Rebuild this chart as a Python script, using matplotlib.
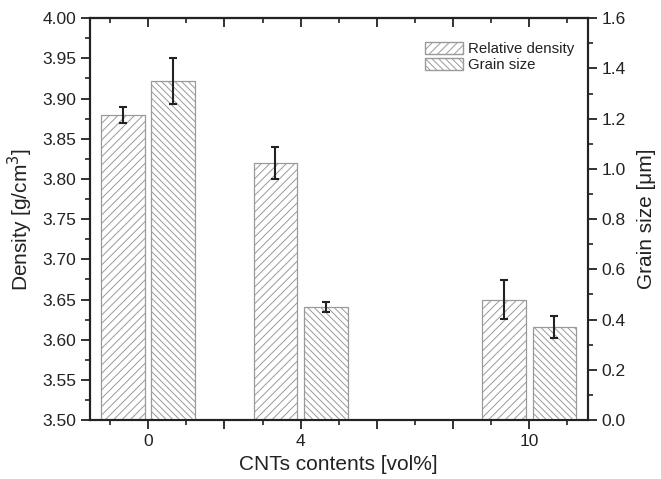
import matplotlib
matplotlib.use("Agg")
import matplotlib.pyplot as plt
from matplotlib.patches import Patch
from matplotlib.ticker import MultipleLocator, FixedLocator, FormatStrFormatter

plt.rcParams['font.family'] = ['Liberation Sans', 'DejaVu Sans']
plt.rcParams['hatch.linewidth'] = 0.7

# data
cnt = [0, 4, 10]
density = [3.88, 3.82, 3.65]
density_err = [0.01, 0.02, 0.024]
grain = [1.35, 0.45, 0.37]
grain_err = [0.09, 0.02, 0.045]

dark = '#222222'
edge = '#9a9a9a'
bar_w = 1.15
off = 0.66
h_dens = '////'
h_grain = '\\\\\\\\\\'

fig = plt.figure(figsize=(6.61, 4.79), dpi=100)
ax = fig.add_axes([0.136, 0.123, 0.753, 0.839])
ax2 = ax.twinx()

ax.bar([c - off for c in cnt], density, width=bar_w, color='white',
       edgecolor=edge, linewidth=0.9, hatch=h_dens,
       yerr=density_err, error_kw=dict(ecolor=dark, elinewidth=1.5, capsize=3, capthick=1.5))
ax2.bar([c + off for c in cnt], grain, width=bar_w, color='white',
        edgecolor=edge, linewidth=0.9, hatch=h_grain,
        yerr=grain_err, error_kw=dict(ecolor=dark, elinewidth=1.5, capsize=3, capthick=1.5))

ax.set_xlim(-1.53, 11.53)
ax.set_ylim(3.5, 4.0)
ax2.set_ylim(0, 1.6)

ax.xaxis.set_major_locator(FixedLocator([0, 2, 4, 6, 8, 10]))
ax.set_xticklabels(['0', '', '4', '', '', '10'])
ax.xaxis.set_minor_locator(MultipleLocator(1))
ax.yaxis.set_major_locator(MultipleLocator(0.05))
ax.yaxis.set_minor_locator(MultipleLocator(0.025))
ax.yaxis.set_major_formatter(FormatStrFormatter('%.2f'))
ax2.yaxis.set_major_locator(MultipleLocator(0.2))
ax2.yaxis.set_minor_locator(MultipleLocator(0.1))
ax2.yaxis.set_major_formatter(FormatStrFormatter('%.1f'))

for a in (ax, ax2):
    for s in a.spines.values():
        s.set_linewidth(1.5)
        s.set_color(dark)
    a.tick_params(which='major', direction='out', length=6.5, width=1.3,
                  colors=dark, labelsize=12.5, labelcolor=dark)
    a.tick_params(which='minor', direction='out', length=3.6, width=1.2, colors=dark)

# inward ticks on the top spine
top = ax.secondary_xaxis('top')
top.xaxis.set_major_locator(FixedLocator([0, 2, 4, 6, 8, 10]))
top.xaxis.set_minor_locator(MultipleLocator(1))
top.tick_params(which='major', direction='in', length=6.5, width=1.3, colors=dark, labeltop=False)
top.tick_params(which='minor', direction='in', length=3.6, width=1.2, colors=dark)
top.spines['top'].set_linewidth(1.5)
top.spines['top'].set_color(dark)

ax.set_xlabel('CNTs contents [vol%]', fontsize=15, color=dark, labelpad=4)
ax.set_ylabel('Density [g/cm$^3$]', fontsize=15, color=dark, labelpad=5)
ax2.set_ylabel('Grain size [\u03bcm]', fontsize=15, color=dark, labelpad=8)

handles = [Patch(facecolor='white', edgecolor=edge, hatch=h_dens, label='Relative density'),
           Patch(facecolor='white', edgecolor=edge, hatch=h_grain, label='Grain size')]
ax2.legend(handles=handles, loc='upper right', bbox_to_anchor=(1.0, 0.975), frameon=False,
           fontsize=10.8, handlelength=2.5, handleheight=0.85, handletextpad=0.35,
           labelspacing=0.15, labelcolor=dark)

fig.savefig('out.png', dpi=100)
